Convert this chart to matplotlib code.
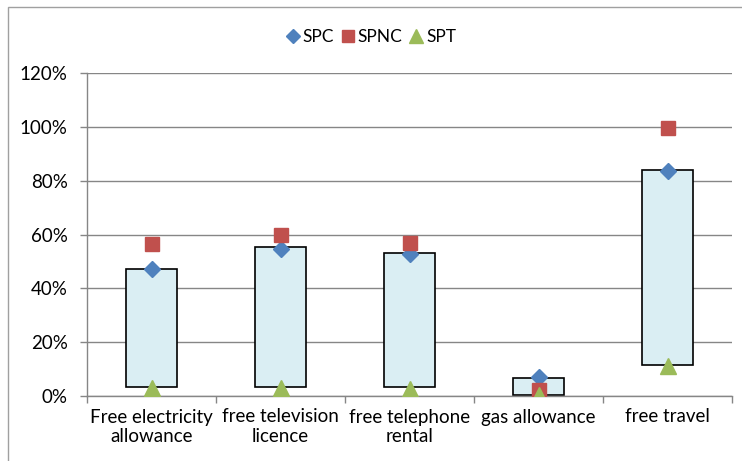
import matplotlib
matplotlib.use("Agg")
import matplotlib.pyplot as plt
from matplotlib.patches import Rectangle
from matplotlib.ticker import FixedLocator, NullFormatter
import numpy as np

categories = ["Free electricity\nallowance", "free television\nlicence",
              "free telephone\nrental", "gas allowance", "free travel"]
spc = [47.0, 54.5, 52.8, 7.0, 83.5]
spnc = [56.3, 59.8, 57.0, 2.3, 99.5]
spt = [2.8, 2.8, 2.6, 0.3, 11.2]
box_low = [3.2, 3.2, 3.2, 0.5, 11.5]
box_high = [47.2, 55.2, 53.2, 6.8, 84.0]
yticks = [0, 20, 40, 60, 80, 100, 120]
ytick_labels = ["0%", "20%", "40%", "60%", "80%", "100%", "120%"]

plt.rcParams['font.family'] = ['Lato', 'DejaVu Sans']

fig = plt.figure(figsize=(7.42, 4.61), dpi=100)
W, H = 742, 461
left, right, bottom, top = 87, 732, 396, 73
ax = fig.add_axes([left / W, 1 - bottom / H, (right - left) / W, (bottom - top) / H])

# chart border
fig.patches.append(Rectangle((8 / W, -0.1), 1.2, (1 - 7 / H) + 0.1, transform=fig.transFigure,
                             fill=False, edgecolor='#A0A0A0', linewidth=1.0))

x = np.arange(len(categories))
ax.bar(x, np.array(box_high) - np.array(box_low), bottom=box_low, width=0.4,
       color='#DAEEF3', edgecolor='black', linewidth=1.2, zorder=2)

ax.plot(x, spc, linestyle='none', marker='D', markersize=8, color='#4F81BD', label='SPC', zorder=3)
ax.plot(x, spnc, linestyle='none', marker='s', markersize=10, color='#C0504D', label='SPNC', zorder=3)
ax.plot(x, spt, linestyle='none', marker='^', markersize=12, color='#9BBB59', label='SPT', zorder=4)

ax.set_xlim(-0.5, len(categories) - 0.5)
ax.set_ylim(0, 120)
ax.set_yticks(yticks)
ax.set_yticklabels(ytick_labels, fontsize=13.5)
ax.yaxis.grid(True, color='#868686', linewidth=1.0, zorder=0)
ax.set_axisbelow(True)

ax.set_xticks(x)
ax.set_xticklabels(categories, fontsize=13.5, linespacing=1.15)
ax.tick_params(axis='x', which='major', length=0, pad=9)
ax.xaxis.set_minor_locator(FixedLocator(np.arange(-0.5, len(categories) + 0.5, 1.0)))
ax.xaxis.set_minor_formatter(NullFormatter())
ax.tick_params(axis='x', which='minor', length=5, color='#868686', width=1)
ax.tick_params(axis='y', length=5, color='#868686', width=1, pad=9)

for s in ['top', 'right']:
    ax.spines[s].set_visible(False)
for s in ['left', 'bottom']:
    ax.spines[s].set_color('#868686')
    ax.spines[s].set_linewidth(1.0)

fig.legend(loc='center', bbox_to_anchor=(372 / W, 1 - 37 / H), ncol=3, frameon=False,
           fontsize=12.5, handlelength=0.6, handletextpad=0.25, columnspacing=0.5,
           markerscale=0.85)

fig.savefig("out.png", dpi=100)
